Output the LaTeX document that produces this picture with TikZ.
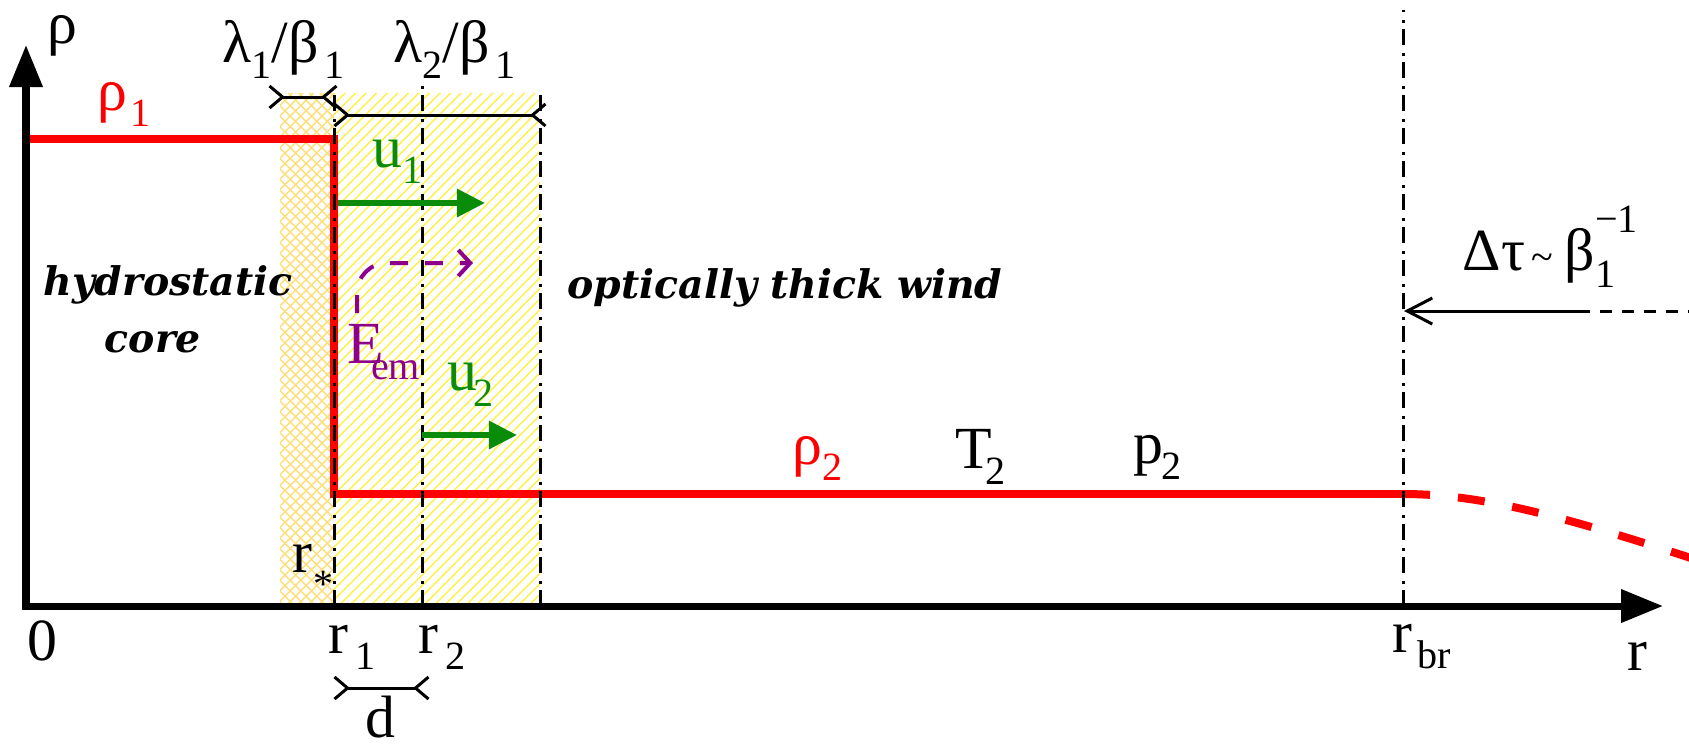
\documentclass[tikz,border=0pt]{standalone}
\usepackage{fontspec}
\setmainfont{Liberation Serif}
\newfontfamily\regfont{DejaVu Serif}
\usetikzlibrary{arrows.meta,patterns}
\definecolor{rhored}{RGB}{255,0,0}
\definecolor{ugreen}{RGB}{10,140,10}
\definecolor{epurple}{RGB}{140,0,140}
\definecolor{corehatch}{RGB}{255,222,120}
\definecolor{windhatch}{RGB}{255,240,70}
\newcommand{\subsz}{\fontsize{11.4}{13}\selectfont}
\newcommand{\lsub}[2][0.12em]{\kern#1\raisebox{-0.28em}{\subsz #2}}

\begin{document}
\begin{tikzpicture}[x=0.01cm, y=-0.01cm, font=\fontsize{17}{20}\selectfont,
    eixo/.style={line width=0.07cm, -{Triangle[length=0.42cm,width=0.32cm]}},
    perfil/.style={rhored, line width=0.08cm},
    raio/.style={line width=0.03cm, dash pattern=on 0.16cm off 0.06cm on 0.03cm off 0.08cm},
    cota/.style={line width=0.03cm, {Straight Barb[reversed,length=0.13cm,width=0.22cm]}-{Straight Barb[reversed,length=0.13cm,width=0.22cm]}},
    veloc/.style={ugreen, line width=0.06cm, -{Triangle[length=0.28cm,width=0.27cm]}},
    rotulo/.style={anchor=base west, inner sep=0pt},
    regiao/.style={font=\regfont\bfseries\itshape\fontsize{11.2}{13}\selectfont, anchor=base, inner sep=0pt}]
\useasboundingbox (0,0) rectangle (1689,744);
% Raios de referencia
\coordinate (r0) at (26,606);
\coordinate (rs) at (280,606);
\coordinate (r1) at (334,606);
\coordinate (r2) at (422,606);
\coordinate (r3) at (540,606);
\coordinate (rbr) at (1403,606);
% Regioes hachuradas
\fill[pattern=crosshatch, pattern color=corehatch] (280,93) rectangle (r1);
\fill[pattern=north east lines, pattern color=windhatch] (334,93) rectangle (r3);
% Perfil de densidade
\coordinate (a1) at (26,139);
\coordinate (b1) at (334,139);
\coordinate (b2) at (334,494);
\coordinate (a2) at (1403,494);
\draw[perfil] (a1) -- (b1) -- (b2) -- (a2);
\draw[perfil, dash pattern=on 0.27cm off 0.28cm] (a2) .. controls (1480,494) and (1560,515) .. (1700,561);
% Linhas verticais
\draw[raio] (r1) -- (334,90);
\draw[raio] (r2) -- (422,83);
\draw[raio] (r3) -- (540,93);
\draw[raio] (rbr) -- (1403,10);
% Eixos
\coordinate (xini) at (22,606);
\coordinate (xfim) at (1663,606);
\coordinate (ytopo) at (26,45);
\draw[eixo] (26,609) -- (ytopo);
\draw[eixo] (xini) -- (xfim);
% Velocidades
\coordinate (u1a) at (338,203);
\coordinate (u1b) at (485,203);
\coordinate (u2a) at (422,435);
\coordinate (u2b) at (517,435);
\draw[veloc] (u1a) -- (u1b);
\draw[veloc] (u2a) -- (u2b);
% Energia
\coordinate (e0) at (357,313);
\coordinate (e1) at (473,263);
\draw[epurple, line width=0.04cm, dash pattern=on 0.18cm off 0.17cm, rounded corners=0.3cm,
      -{Straight Barb[length=0.12cm,width=0.26cm]}] (e0) |- (e1);
% Cotas
\coordinate (c1a) at (268,97);
\coordinate (c1b) at (338,97);
\coordinate (c2a) at (333,115);
\coordinate (c2b) at (547,115);
\coordinate (da) at (333,688);
\coordinate (db) at (430,688);
\draw[cota] (c1a) -- (c1b);
\draw[cota] (c2a) -- (c2b);
\draw[cota] (da) -- (db);
% Profundidade optica
\coordinate (t0) at (1700,311);
\coordinate (t1) at (1590,311);
\coordinate (t2) at (1404,311);
\draw[line width=0.03cm, dash pattern=on 0.12cm off 0.1cm] (t0) -- (t1);
\draw[line width=0.03cm, -{Straight Barb[length=0.25cm,width=0.26cm]}] (t1) -- (t2);
% Rotulos
\node[rotulo] (lrho) at (47,43) {ρ};
\node[rotulo, text=rhored] (lrho1) at (97,110) {ρ\lsub[0.05em]{1}};
\node[rotulo] (llam1) at (222,62) {λ\lsub[0em]{1}/β\lsub[0.1em]{1}};
\node[rotulo] (llam2) at (393,62) {λ\lsub[0em]{2}/β\lsub[0.1em]{1}};
\node[rotulo, text=ugreen] (lu1) at (372,167) {u\lsub[0em]{1}};
\node[rotulo, text=ugreen] (lu2) at (447,390) {u\lsub[-0.07em]{2}};
\node[rotulo, text=epurple] (lem) at (347,363) {E\lsub[-0.22em]{em}};
\node[rotulo, text=rhored] (lrho2) at (792,464) {ρ\lsub[0em]{2}};
\node[rotulo] (lT2) at (955,468) {T\lsub[-0.12em]{2}};
\node[rotulo] (lp2) at (1133,463) {p\lsub[-0.03em]{2}};
\node[rotulo] (lrs) at (292,572) {r\kern0.02em\raisebox{-0.42em}{\subsz *}};
\node[rotulo] (l0) at (27,660) {0};
\node[rotulo] (lr1) at (328,653) {r\lsub{1}};
\node[rotulo] (lr2) at (418,653) {r\lsub{2}};
\node[rotulo] (lrbr) at (1392,652) {r\lsub[0.08em]{br}};
\node[rotulo] (lr) at (1627,670) {r};
\node[rotulo] (ld) at (365,737) {d};
\node[rotulo] (ltau) at (1462,270) {Δτ\kern0.1em{\subsz\textasciitilde}\kern0.2emβ\rlap{\raisebox{-0.3em}{\subsz 1}}\raisebox{0.62em}{\subsz −1}};
\node[regiao] (lhid) at (168,295) {hydrostatic};
\node[regiao] (lcore) at (153,352) {core};
\node[regiao] (lwind) at (785,298) {optically thick wind};
\end{tikzpicture}
\end{document}
